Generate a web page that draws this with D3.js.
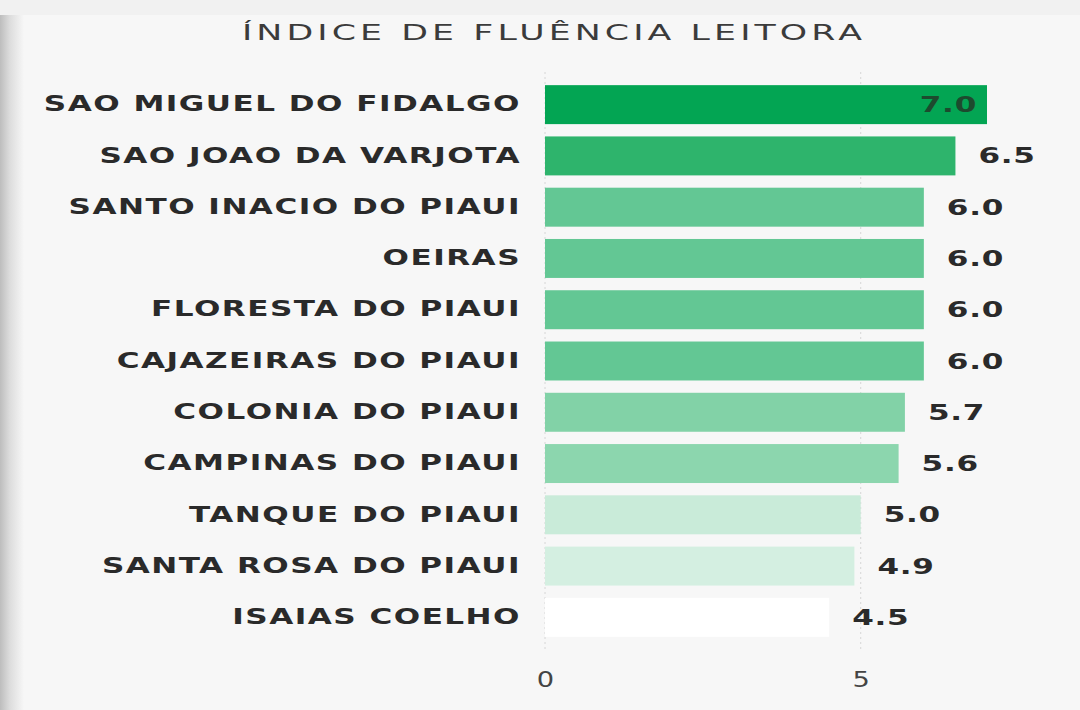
<!DOCTYPE html>
<html>
<head>
<meta charset="utf-8">
<script src="https://cdn.jsdelivr.net/npm/d3@7"></script>
<style>
  html, body { margin: 0; padding: 0; background: #f7f7f7; }
  svg { display: block; }
</style>
</head>
<body>
<svg id="here"></svg>
<script>
// data
const cities = [
  "SAO MIGUEL DO FIDALGO",
  "SAO JOAO DA VARJOTA",
  "SANTO INACIO DO PIAUI",
  "OEIRAS",
  "FLORESTA DO PIAUI",
  "CAJAZEIRAS DO PIAUI",
  "COLONIA DO PIAUI",
  "CAMPINAS DO PIAUI",
  "TANQUE DO PIAUI",
  "SANTA ROSA DO PIAUI",
  "ISAIAS COELHO"
];
const values = [7.0, 6.5, 6.0, 6.0, 6.0, 6.0, 5.7, 5.6, 5.0, 4.9, 4.5];
const xTicks = [0, 5];
const title = "ÍNDICE DE FLUÊNCIA LEITORA";

const width = 1080, height = 710;
const margin = {top: 79, right: 93, bottom: 67, left: 545};
const font = "DejaVu Sans";
const stretch = 1.48; // the original font is much wider than DejaVu

const svg = d3.select("#here")
  .attr("width", width)
  .attr("height", height);

// left shadow of the screenshot
const defs = svg.append("defs");
const grad = defs.append("linearGradient").attr("id", "shade");
grad.append("stop").attr("offset", "0%").attr("stop-color", "#bdbdbd");
grad.append("stop").attr("offset", "40%").attr("stop-color", "#dcdcdc");
grad.append("stop").attr("offset", "100%").attr("stop-color", "#f7f7f7");
svg.append("rect").attr("width", width).attr("height", height).attr("fill", "#f7f7f7");
svg.append("rect").attr("x", 0).attr("y", 14).attr("width", 24).attr("height", height - 14).attr("fill", "url(#shade)");
svg.append("rect").attr("x", 0).attr("y", 0).attr("width", width).attr("height", 15).attr("fill", "#f1f1f1");

const x = d3.scaleLinear()
  .domain([0, 7])
  .range([margin.left, width - margin.right]);

const y = d3.scaleBand()
  .domain(d3.range(cities.length))
  .range([margin.top, height - margin.bottom])
  .paddingInner(0.24)
  .paddingOuter(0.12);

const color = d3.scaleLinear()
  .domain([4.5, 5.0, 5.6, 6.0, 6.5, 7.0])
  .range(["#ffffff", "#c9ebd9", "#8cd6ae", "#63c794", "#2eb46c", "#03a553"])
  .clamp(true);

svg.append("text")
  .attr("transform", `translate(554,40) scale(1.58,1)`)
  .attr("text-anchor", "middle")
  .attr("font-family", font)
  .attr("font-size", 22)
  .attr("letter-spacing", 2.6)
  .attr("fill", "#3b3b3b")
  .text(title);

// dotted grid
svg.append("g")
  .selectAll("line")
  .data(xTicks)
  .join("line")
  .attr("x1", d => x(d)).attr("x2", d => x(d))
  .attr("y1", 72).attr("y2", 650)
  .attr("stroke", "#d6d6d6")
  .attr("stroke-dasharray", "2,3");

svg.selectAll(".bar")
  .data(values)
  .join("rect")
  .attr("class", "bar")
  .attr("x", x(0))
  .attr("y", (d, i) => y(i))
  .attr("width", d => x(d) - x(0))
  .attr("height", y.bandwidth())
  .attr("fill", d => color(d));

const yAxis = g => g
  .attr("transform", `translate(${margin.left - 24},0) scale(${stretch},1)`)
  .call(d3.axisLeft(y).tickSize(0).tickPadding(0).tickFormat(i => cities[i]))
  .call(g => g.select(".domain").remove())
  .call(g => g.selectAll("text")
    .attr("font-family", font)
    .attr("font-weight", "bold")
    .attr("font-size", 21)
    .attr("letter-spacing", 1)
    .attr("fill", "#2a2a2a"));
svg.append("g").call(yAxis);

const fmt = d3.format(".1f");
svg.selectAll(".val")
  .data(values)
  .join("text")
  .attr("class", "val")
  .attr("transform", (d, i) => `translate(${i === 0 ? x(d) - 10 : x(d) + 23},${y(i) + y.bandwidth() / 2}) scale(${stretch},1)`)
  .attr("dy", "0.36em")
  .attr("text-anchor", (d, i) => i === 0 ? "end" : "start")
  .attr("font-family", font)
  .attr("font-weight", "bold")
  .attr("font-size", 21)
  .attr("letter-spacing", 0.5)
  .attr("fill", (d, i) => i === 0 ? "#1d4a2e" : "#2a2a2a")
  .text(d => fmt(d));

const xAxis = g => g
  .attr("transform", `translate(0,687)`)
  .call(d3.axisBottom(x).tickValues(xTicks).tickSize(0).tickPadding(0).tickFormat(d3.format("d")))
  .call(g => g.select(".domain").remove())
  .call(g => g.selectAll("text")
    .attr("dy", "0")
    .attr("transform", "scale(1.3,1)")
    .attr("font-family", font)
    .attr("font-size", 21)
    .attr("fill", "#444"));
svg.append("g").call(xAxis);
</script>
</body>
</html>
